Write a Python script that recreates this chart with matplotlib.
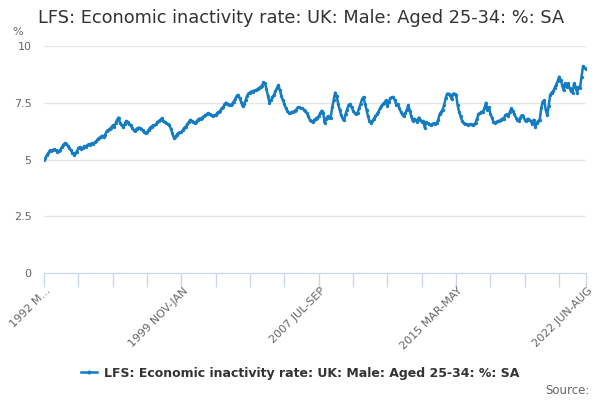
import matplotlib
matplotlib.use("Agg")
import matplotlib.pyplot as plt

# ------------------------------------------------------------ data -----------------------------------------

title = "LFS: Economic inactivity rate: UK: Male: Aged 25-34: %: SA"
series_name = "LFS: Economic inactivity rate: UK: Male: Aged 25-34: %: SA"

months = ["JAN", "FEB", "MAR", "APR", "MAY", "JUN", "JUL", "AUG", "SEP", "OCT", "NOV", "DEC"]
first_year, first_month = 1992, 2      # 1992 MAR-MAY
n_points = 364                         # up to 2022 JUN-AUG

rate = [
    # 1992
    5.0, 5.05, 5.2, 5.3, 5.4, 5.38, 5.42, 5.45, 5.4, 5.35, 5.38, 5.42,
    # 1993
    5.55, 5.65, 5.72, 5.7, 5.6, 5.5, 5.4, 5.3, 5.22, 5.28, 5.35, 5.5,
    # 1994
    5.55, 5.45, 5.5, 5.6, 5.55, 5.62, 5.68, 5.65, 5.72, 5.7, 5.75, 5.8,
    # 1995
    5.9, 5.95, 6.0, 6.05, 6.0, 6.1, 6.25, 6.3, 6.35, 6.4, 6.5, 6.45,
    # 1996
    6.6, 6.75, 6.85, 6.6, 6.5, 6.45, 6.55, 6.7, 6.65, 6.55, 6.5, 6.4,
    # 1997
    6.3, 6.25, 6.35, 6.4, 6.4, 6.35, 6.3, 6.2, 6.15, 6.2, 6.3, 6.4,
    # 1998
    6.45, 6.5, 6.5, 6.55, 6.65, 6.7, 6.75, 6.82, 6.7, 6.65, 6.6, 6.55,
    # 1999
    6.5, 6.35, 6.15, 5.95, 6.0, 6.1, 6.15, 6.2, 6.2, 6.3, 6.4, 6.45,
    # 2000
    6.55, 6.65, 6.75, 6.7, 6.65, 6.6, 6.65, 6.75, 6.8, 6.8, 6.85, 6.9,
    # 2001
    6.95, 7.0, 7.05, 7.0, 6.95, 6.9, 6.95, 6.95, 7.05, 7.1, 7.15, 7.25,
    # 2002
    7.3, 7.45, 7.5, 7.45, 7.4, 7.4, 7.45, 7.55, 7.65, 7.8, 7.85, 7.7,
    # 2003
    7.55, 7.35, 7.45, 7.6, 7.8, 7.92, 7.95, 8.0, 7.98, 8.05, 8.05, 8.1,
    # 2004
    8.15, 8.2, 8.25, 8.4, 8.35, 8.1, 7.8, 7.5, 7.6, 7.75, 7.85, 8.0,
    # 2005
    8.15, 8.28, 8.05, 7.8, 7.6, 7.45, 7.25, 7.15, 7.05, 7.05, 7.1, 7.1,
    # 2006
    7.15, 7.2, 7.3, 7.3, 7.25, 7.25, 7.2, 7.15, 7.05, 6.9, 6.75, 6.7,
    # 2007
    6.65, 6.75, 6.8, 6.85, 6.9, 7.05, 7.15, 7.05, 6.6, 6.8, 6.9, 6.85,
    # 2008
    6.85, 7.3, 7.6, 7.95, 7.8, 7.45, 7.2, 6.95, 6.8, 6.75, 7.0, 7.2,
    # 2009
    7.4, 7.45, 7.3, 7.15, 7.05, 7.0, 7.05, 7.25, 7.45, 7.65, 7.75, 7.45,
    # 2010
    7.2, 6.9, 6.7, 6.6, 6.7, 6.8, 6.9, 7.0, 7.1, 7.25, 7.35, 7.45,
    # 2011
    7.5, 7.6, 7.35, 7.55, 7.7, 7.75, 7.75, 7.6, 7.4, 7.45, 7.25, 7.1,
    # 2012
    7.0, 6.9, 7.05, 7.2, 7.4, 7.15, 6.9, 6.7, 6.8, 6.75, 6.65, 6.85,
    # 2013
    6.75, 6.65, 6.7, 6.4, 6.65, 6.6, 6.55, 6.5, 6.55, 6.6, 6.55, 6.6,
    # 2014
    6.75, 7.0, 7.1, 7.2, 7.4, 7.7, 7.9, 7.9, 7.85, 7.65, 7.9, 7.9,
    # 2015
    7.85, 7.4, 7.1, 6.9, 6.7, 6.6, 6.55, 6.55, 6.5, 6.55, 6.55, 6.5,
    # 2016
    6.55, 6.6, 6.8, 7.0, 7.05, 7.1, 7.1, 7.25, 7.5, 7.2, 7.3, 7.0,
    # 2017
    6.85, 6.65, 6.6, 6.65, 6.7, 6.7, 6.75, 6.8, 6.8, 6.95, 7.0, 6.9,
    # 2018
    7.1, 7.25, 7.15, 7.0, 6.85, 6.75, 6.7, 6.85, 6.95, 6.9, 6.75, 6.7,
    # 2019
    6.8, 6.75, 6.7, 6.55, 6.75, 6.45, 6.6, 6.7, 6.75, 7.25, 7.55, 7.6,
    # 2020
    7.2, 6.95, 7.35, 7.85, 7.95, 8.0, 8.15, 8.3, 8.45, 8.65, 8.5, 8.3,
    # 2021
    8.05, 8.35, 8.2, 8.35, 8.15, 8.0, 7.95, 8.35, 8.2, 7.95, 8.2, 8.15,
    # 2022
    8.65, 9.1, 9.05, 9.0,
]

# category labels like "1999 NOV-JAN"
periods = []
for k in range(n_points):
    m = first_month + k
    y = first_year + m // 12
    periods.append(f"{y} {months[m % 12]}-{months[(m + 2) % 12]}")

tick_idx = list(range(0, n_points - 1, 23)) + [n_points - 1]
label_idx = [0, 92, 184, 276, 363]
y_ticks = [0, 2.5, 5, 7.5, 10]
y_labels = ["0", "2.5", "5", "7.5", "10"]

# ------------------------------------------------------------ plot ----------------------------------------------------------------

line_col = "#137cc2"
fig = plt.figure(figsize=(6, 4), dpi=100)
ax = fig.add_axes([44 / 600, 1 - 273 / 400, 542 / 600, 227 / 400])

x = list(range(len(rate)))
ax.plot(x, rate, color=line_col, lw=1.8, marker="o", ms=2.4, mew=0, zorder=3)

ax.set_xlim(0, n_points - 1)
ax.set_ylim(0, 10)
ax.set_yticks(y_ticks)
ax.set_yticklabels(y_labels, color="#666666", fontsize=8)
ax.grid(axis="y", color="#e6e6e6", lw=1)
ax.set_axisbelow(True)
ax.tick_params(axis="y", length=0, pad=9)

ax.set_xticks(tick_idx)
ax.set_xticklabels([""] * len(tick_idx))
ax.tick_params(axis="x", length=10, color="#ccd6eb", width=1)
for i in label_idx:
    txt = periods[i] if i != 0 else "1992 M..."
    ax.text(i + 1, -0.55, txt, rotation=45, ha="right", va="top", rotation_mode="anchor",
            fontsize=8, color="#666666", transform=ax.transData, clip_on=False)

for s in ["top", "right", "left"]:
    ax.spines[s].set_visible(False)
ax.spines["bottom"].set_color("#ccd6eb")

fig.text(38 / 600, 1 - 18 / 400, title, fontsize=12.8, color="#333333", va="center", ha="left")
fig.text(12 / 600, 1 - 32 / 400, "%", fontsize=8, color="#666666", va="center", ha="left")

# legend
fig.legend(handles=ax.get_lines(), labels=[series_name], loc="center", bbox_to_anchor=(0.5, 1 - 373 / 400),
           frameon=False, prop={"weight": "bold", "size": 9}, handlelength=1.3, markerscale=1.2,
           labelcolor="#333333", handletextpad=0.5)
fig.text(590 / 600, 1 - 390 / 400, "Source:", fontsize=8.5, color="#666666", ha="right", va="center")

fig.savefig("out.png", dpi=100)
